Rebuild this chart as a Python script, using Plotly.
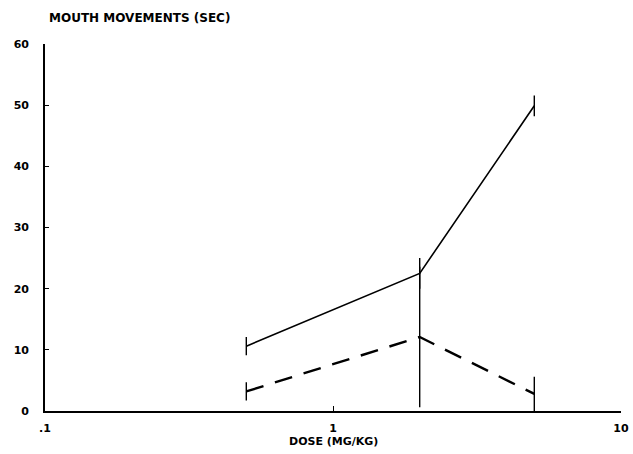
import plotly.graph_objects as go

dose = [0.5, 2, 5]
solid_mean = [10.6, 22.5, 49.9]
solid_err = [1.5, 2.5, 1.7]
dashed_mean = [3.2, 12.1, 2.8]
dashed_err = [1.5, 11.5, 2.8]

y_ticks = [0, 10, 20, 30, 40, 50, 60]
x_ticks = [0.1, 1, 10]
x_tick_labels = [".1", "1", "10"]

font_main = "DejaVu Sans"

fig = go.Figure()
fig.add_trace(go.Scatter(
    x=dose, y=solid_mean, mode="lines",
    line=dict(color="black", width=1.6),
    error_y=dict(type="data", array=solid_err, color="black", thickness=1.4, width=0),
    showlegend=False, hoverinfo="skip",
))
fig.add_trace(go.Scatter(
    x=dose, y=dashed_mean, mode="lines",
    line=dict(color="black", width=2.4, dash="18px,12px"),
    error_y=dict(type="data", array=dashed_err, color="black", thickness=1.4, width=0),
    showlegend=False, hoverinfo="skip",
))

fig.update_layout(
    width=633, height=454,
    margin=dict(l=45, r=12, t=43.5, b=43, autoexpand=False),
    paper_bgcolor="white", plot_bgcolor="white",
    font=dict(family=font_main, color="black", size=11),
    xaxis=dict(
        type="log", range=[-1, 1], automargin=False,
        tickvals=x_ticks, ticktext=x_tick_labels,
        showgrid=False, zeroline=False,
        showline=True, linecolor="black", linewidth=2,
        ticks="inside", ticklen=5, tickwidth=1.2, tickcolor="black",
        tickfont=dict(family=font_main, size=11, color="black", weight="bold"),
        ticklabelstandoff=6,
    ),
    yaxis=dict(
        range=[0, 60], automargin=False,
        tickvals=y_ticks,
        showgrid=False, zeroline=False,
        showline=True, linecolor="black", linewidth=1.6,
        ticks="inside", ticklen=4, tickwidth=1.2, tickcolor="black",
        tickfont=dict(family=font_main, size=11, color="black", weight="bold"),
        ticklabelstandoff=12,
    ),
    annotations=[
        dict(
            text="<b>MOUTH MOVEMENTS (SEC)</b>", xref="paper", yref="paper",
            x=0.004, y=1.045, xanchor="left", yanchor="bottom", showarrow=False,
            font=dict(family=font_main, size=12, color="black"),
        ),
        dict(
            text="<b>DOSE (MG/KG)</b>", xref="paper", yref="paper",
            x=0.5, y=-0.084, xanchor="center", yanchor="middle", showarrow=False,
            font=dict(family=font_main, size=11, color="black"),
        ),
    ],
)

fig.write_html(
    "out.html",
    config={"displayModeBar": False},
    post_script="document.body.style.margin='0';document.body.style.overflow='hidden';",
)
